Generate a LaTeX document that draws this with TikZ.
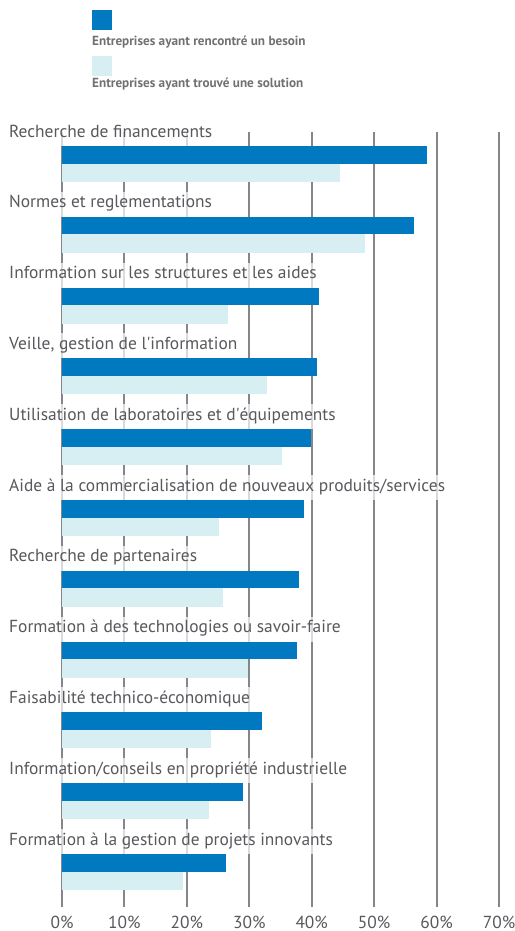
\documentclass[tikz,border=0pt]{standalone}
\usepackage{fontspec}
\setmainfont{PT Sans}
\usepackage{xcolor}
\usetikzlibrary{positioning}
\definecolor{besoinblue}{RGB}{0,121,193}
\definecolor{solutionblue}{RGB}{215,238,243}
\definecolor{labelgray}{RGB}{88,88,93}
\definecolor{gridgray}{RGB}{134,134,138}

\begin{document}
\begin{tikzpicture}[x=1pt,y=-1pt,
  catlabel/.style={anchor=base west,text=labelgray,font=\fontsize{17.4}{17.4}\selectfont,
    fill=white,fill opacity=0.7,text opacity=1,inner xsep=1pt,inner ysep=2pt,
    text height=14pt,text depth=7pt},
  ticklabel/.style={anchor=base,text=labelgray,font=\fontsize{17.4}{17.4}\selectfont,inner sep=0pt},
  legbox/.style={anchor=north west,minimum size=20pt,inner sep=0pt},
  legtext/.style={anchor=base west,text=labelgray!85,font=\bfseries\fontsize{13.2}{13.2}\selectfont,inner sep=0pt}]
\useasboundingbox (0,0) rectangle (514,931);
% legend
\node[legbox,fill=besoinblue] (legbesoin) at (92,10) {};
\node[legtext] (txtbesoin) at (92,45.5) {Entreprises ayant rencontré un besoin};
\node[legbox,fill=solutionblue] (legsolution) at (92,56) {};
\node[legtext] (txtsolution) at (92,88) {Entreprises ayant trouvé une solution};
% grid and axis
\foreach \k in {0,...,7}{
  \pgfmathtruncatemacro{\pct}{10*\k}
  \draw[gridgray,line width=2pt] ({62+62.43*\k},132) -- ({62+62.43*\k},907);
  \node[ticklabel] (tick\k) at ({62+62.43*\k},928) {\pct\%};
}
% categories
\foreach \lab/\need/\sol [count=\i from 0] in {
    {Recherche de financements}/58.5/44.5,
    {Normes et reglementations}/56.4/48.5,
    {Information sur les structures et les aides}/41.2/26.6,
    {Veille, gestion de l\textquotesingle{}information}/40.8/32.8,
    {Utilisation de laboratoires et d\textquotesingle{}équipements}/39.9/35.2,
    {Aide à la commercialisation de nouveaux produits/services}/38.8/25.1,
    {Recherche de partenaires}/38.0/25.8,
    {Formation à des technologies ou savoir-faire}/37.6/29.8,
    {Faisabilité technico-économique}/32.0/23.9,
    {Information/conseils en propriété industrielle}/29.0/23.5,
    {Formation à la gestion de projets innovants}/26.3/19.4}{
  \pgfmathsetmacro{\top}{146+70.8*\i}
  \node[catlabel] (cat\i) at (8,\top-9) {\lab};
  \fill[besoinblue] (62,\top) rectangle ({62+6.243*\need},\top+17.5);
  \fill[solutionblue] (62,\top+17.5) rectangle ({62+6.243*\sol},\top+36);
}
\end{tikzpicture}
\end{document}
